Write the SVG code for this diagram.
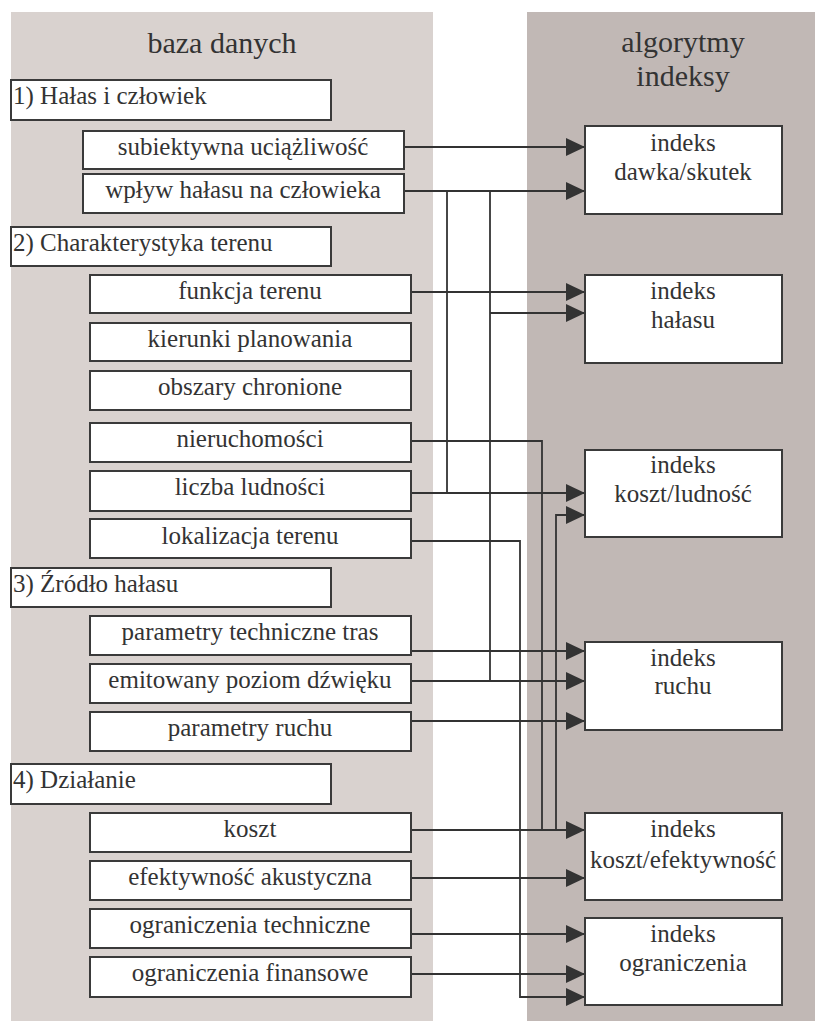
<svg xmlns="http://www.w3.org/2000/svg" width="815" height="1021" viewBox="0 0 815 1021">
<style>
.bx{fill:#fff;stroke:#3a3a3a;stroke-width:2}
.t{font-size:25px;fill:#333}
.h{font-size:30px;fill:#333;text-anchor:middle}
.c{text-anchor:middle}
.ln{fill:none;stroke:#333;stroke-width:1.8}
</style>
<defs>
<marker id="ah" markerUnits="userSpaceOnUse" markerWidth="20" markerHeight="20" refX="19" refY="9" orient="auto">
<path d="M0,0 L19,9 L0,18 Z" fill="#333"/>
</marker>
</defs>
<rect x="11" y="12" width="422" height="1009" fill="#d9d2cf"/>
<rect x="527" y="12" width="288" height="1009" fill="#c1b8b5"/>

<g id="connectors">
<path class="ln" marker-end="url(#ah)" d="M404,147 H585"/>
<path class="ln" marker-end="url(#ah)" d="M404,191 H585"/>
<path class="ln" d="M447,191 V493"/>
<path class="ln" d="M490,191 V681"/>
<path class="ln" marker-end="url(#ah)" d="M411,292 H585"/>
<path class="ln" marker-end="url(#ah)" d="M490,313 H585"/>
<path class="ln" d="M411,441 H542 V830"/>
<path class="ln" marker-end="url(#ah)" d="M411,493 H585"/>
<path class="ln" marker-end="url(#ah)" d="M556,830 V515 H585"/>
<path class="ln" marker-end="url(#ah)" d="M411,541 H520 V997 H585"/>
<path class="ln" marker-end="url(#ah)" d="M411,651 H585"/>
<path class="ln" marker-end="url(#ah)" d="M411,681 H585"/>
<path class="ln" marker-end="url(#ah)" d="M411,721 H585"/>
<path class="ln" marker-end="url(#ah)" d="M411,830 H585"/>
<path class="ln" marker-end="url(#ah)" d="M411,878 H585"/>
<path class="ln" marker-end="url(#ah)" d="M411,934 H585"/>
<path class="ln" marker-end="url(#ah)" d="M411,974 H585"/>
</g>

<g font-family="Liberation Serif, Times New Roman, Times, Tinos, Noto Serif, DejaVu Serif, FreeSerif, serif">
<text class="h" x="222" y="53">baza danych</text>
<text class="h" x="683" y="52">algorytmy</text>
<text class="h" x="683" y="86">indeksy</text>

<g id="g1"><rect class="bx" x="11" y="80" width="320" height="40"/><text class="t" x="13" y="104">1) Hałas i człowiek</text></g>
<g id="subiektywna"><rect class="bx" x="83" y="131" width="321" height="38"/><text class="t c" x="243" y="155">subiektywna uciążliwość</text></g>
<g id="wplyw"><rect class="bx" x="83" y="174" width="321" height="39"/><text class="t c" x="243" y="198">wpływ hałasu na człowieka</text></g>
<g id="g2"><rect class="bx" x="11" y="227" width="320" height="39"/><text class="t" x="13" y="251">2) Charakterystyka terenu</text></g>
<g id="funkcja"><rect class="bx" x="90" y="275" width="321" height="38"/><text class="t c" x="250" y="299">funkcja terenu</text></g>
<g id="kierunki"><rect class="bx" x="90" y="323" width="321" height="38"/><text class="t c" x="250" y="347">kierunki planowania</text></g>
<g id="obszary"><rect class="bx" x="90" y="371" width="321" height="39"/><text class="t c" x="250" y="395">obszary chronione</text></g>
<g id="nieruchomosci"><rect class="bx" x="90" y="423" width="321" height="39"/><text class="t c" x="250" y="447">nieruchomości</text></g>
<g id="liczba"><rect class="bx" x="90" y="471" width="321" height="40"/><text class="t c" x="250" y="495">liczba ludności</text></g>
<g id="lokalizacja"><rect class="bx" x="90" y="519" width="321" height="39"/><text class="t c" x="250" y="544">lokalizacja terenu</text></g>
<g id="g3"><rect class="bx" x="11" y="568" width="320" height="39"/><text class="t" x="13" y="592">3) Źródło hałasu</text></g>
<g id="parametry-tras"><rect class="bx" x="90" y="616" width="321" height="39"/><text class="t c" x="250" y="640">parametry techniczne tras</text></g>
<g id="emitowany"><rect class="bx" x="90" y="664" width="321" height="39"/><text class="t c" x="250" y="688">emitowany poziom dźwięku</text></g>
<g id="parametry-ruchu"><rect class="bx" x="90" y="712" width="321" height="39"/><text class="t c" x="250" y="736">parametry ruchu</text></g>
<g id="g4"><rect class="bx" x="11" y="764" width="320" height="40"/><text class="t" x="13" y="788">4) Działanie</text></g>
<g id="koszt"><rect class="bx" x="90" y="813" width="321" height="39"/><text class="t c" x="250" y="837">koszt</text></g>
<g id="efektywnosc"><rect class="bx" x="90" y="861" width="321" height="39"/><text class="t c" x="250" y="885">efektywność akustyczna</text></g>
<g id="ogr-tech"><rect class="bx" x="90" y="909" width="321" height="39"/><text class="t c" x="250" y="933">ograniczenia techniczne</text></g>
<g id="ogr-fin"><rect class="bx" x="90" y="957" width="321" height="40"/><text class="t c" x="250" y="981">ograniczenia finansowe</text></g>

<g id="i-dawka"><rect class="bx" x="585" y="126" width="197" height="88"/><text class="t c" x="683" y="151">indeks</text><text class="t c" x="683" y="180">dawka/skutek</text></g>
<g id="i-halasu"><rect class="bx" x="585" y="275" width="197" height="88"/><text class="t c" x="683" y="299">indeks</text><text class="t c" x="683" y="328">hałasu</text></g>
<g id="i-koszt-ludnosc"><rect class="bx" x="585" y="450" width="197" height="87"/><text class="t c" x="683" y="473">indeks</text><text class="t c" x="683" y="502">koszt/ludność</text></g>
<g id="i-ruchu"><rect class="bx" x="585" y="642" width="197" height="88"/><text class="t c" x="683" y="666">indeks</text><text class="t c" x="683" y="694">ruchu</text></g>
<g id="i-koszt-efekt"><rect class="bx" x="585" y="813" width="197" height="87"/><text class="t c" x="683" y="837">indeks</text><text class="t c" x="683" y="868">koszt/efektywność</text></g>
<g id="i-ograniczenia"><rect class="bx" x="585" y="918" width="197" height="87"/><text class="t c" x="683" y="942">indeks</text><text class="t c" x="683" y="971">ograniczenia</text></g>
</g>
</svg>
